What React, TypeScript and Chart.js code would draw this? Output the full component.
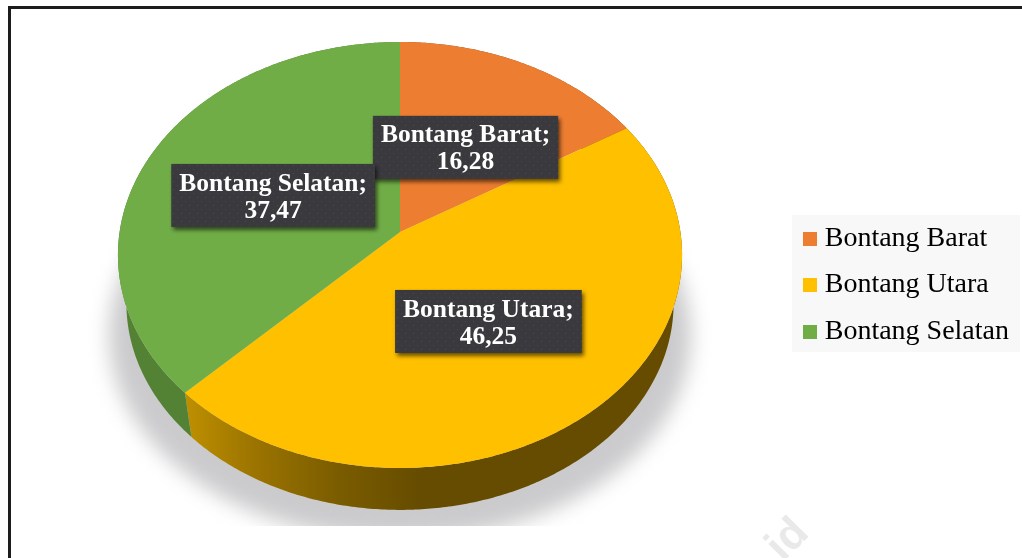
import React, { useEffect, useRef } from "react";
import { Chart, registerables } from "chart.js";

Chart.register(...registerables);

const categories = ["Bontang Barat", "Bontang Utara", "Bontang Selatan"];
const shares = [16.28, 46.25, 37.47];
const shareLabels = ["16,28", "46,25", "37,47"];
const faceColors = ["#ED7D31", "#FFC000", "#70AD47"];

const SERIF = '"Liberation Serif", serif';
const CX = 400;
const CY = 232;
const K = -0.108;
const AX = 280.4;
const AY = 210.5;
const DEPTH_SCALE = 0.97;
const DEPTH_DY = 49;

function project(a: number, r = 1, s = 1, dy = 0) {
  const u = Math.cos(a) * r;
  const v = Math.sin(a) * r;
  const w = 1 + K * v;
  return { x: CX + (s * AX * u) / w, y: CY + dy + (s * AY * v) / w };
}

function edge(ctx: CanvasRenderingContext2D, a0: number, a1: number, s: number, dy: number, first: boolean) {
  const steps = Math.max(2, Math.ceil(Math.abs(a1 - a0) / 0.01));
  for (let i = 0; i <= steps; i++) {
    const p = project(a0 + ((a1 - a0) * i) / steps, 1, s, dy);
    if (first && i === 0) ctx.moveTo(p.x, p.y);
    else ctx.lineTo(p.x, p.y);
  }
}

function dots(ctx: CanvasRenderingContext2D) {
  const c = document.createElement("canvas");
  c.width = 8;
  c.height = 8;
  const g = c.getContext("2d")!;
  g.fillStyle = "#3a3a3e";
  g.fillRect(0, 0, 8, 8);
  g.fillStyle = "#4a4a4d";
  g.fillRect(1, 1, 1, 1);
  g.fillRect(5, 5, 1, 1);
  return ctx.createPattern(c, "repeat")!;
}

const framePlugin = {
  id: "frame",
  beforeDraw(chart: any) {
    const ctx: CanvasRenderingContext2D = chart.ctx;
    ctx.save();
    ctx.fillStyle = "#ffffff";
    ctx.fillRect(0, 0, chart.width, chart.height);
    ctx.fillStyle = "#1c1c1c";
    ctx.fillRect(8, 6, chart.width - 8, 3);
    ctx.fillRect(8, 6, 3, chart.height - 6);
    ctx.fillStyle = "#f8f8f9";
    ctx.fillRect(792, 215, 228, 137);
    ctx.translate(788, 540);
    ctx.rotate(-Math.PI / 4);
    ctx.fillStyle = "#e9e9e9";
    ctx.font = 'bold 44px "Liberation Sans", sans-serif';
    ctx.textAlign = "center";
    ctx.textBaseline = "middle";
    ctx.fillText("id", 0, 0);
    ctx.restore();
  },
};

const pie3dPlugin = {
  id: "pie3d",
  beforeDatasetDraw(chart: any, args: any) {
    const ctx: CanvasRenderingContext2D = chart.ctx;
    const arcs = args.meta.data;
    ctx.save();

    // soft cast shadow, cut off flat at the bottom
    ctx.save();
    ctx.beginPath();
    ctx.rect(0, 0, chart.width, 526);
    ctx.clip();
    ctx.filter = "blur(10px)";
    ctx.fillStyle = "#cbcbcd";
    ctx.beginPath();
    ctx.ellipse(CX, 335, 291, 205, 0, 0, Math.PI * 2);
    ctx.fill();
    ctx.restore();

    // side walls
    const wall = ctx.createLinearGradient(188, 0, 420, 0);
    wall.addColorStop(0, "#bd8e00");
    wall.addColorStop(0.3, "#9a7300");
    wall.addColorStop(0.65, "#7a5c00");
    wall.addColorStop(1, "#664c00");
    const walls = ["#7f4a1f", wall, "#548235"];
    arcs.forEach((arc: any, i: number) => {
      const { startAngle, endAngle } = arc.getProps(["startAngle", "endAngle"], true);
      ctx.beginPath();
      edge(ctx, startAngle, endAngle, 1, 0, true);
      edge(ctx, endAngle, startAngle, DEPTH_SCALE, DEPTH_DY, false);
      ctx.closePath();
      ctx.fillStyle = walls[i];
      ctx.fill();
    });

    // top faces
    arcs.forEach((arc: any, i: number) => {
      const { startAngle, endAngle } = arc.getProps(["startAngle", "endAngle"], true);
      ctx.beginPath();
      ctx.moveTo(CX, CY);
      edge(ctx, startAngle, endAngle, 1, 0, false);
      ctx.closePath();
      ctx.fillStyle = faceColors[i];
      ctx.fill();
    });
    ctx.restore();
    return false;
  },
  afterDatasetsDraw(chart: any) {
    const ctx: CanvasRenderingContext2D = chart.ctx;
    const arcs = chart.getDatasetMeta(0).data;
    const pattern = dots(ctx);
    ctx.save();
    ctx.font = `bold 25.5px ${SERIF}`;
    ctx.textAlign = "center";
    ctx.textBaseline = "middle";
    arcs.forEach((arc: any, i: number) => {
      const { startAngle, endAngle } = arc.getProps(["startAngle", "endAngle"], true);
      const p = project((startAngle + endAngle) / 2, 0.5);
      const title = `${categories[i]};`;
      const w = ctx.measureText(title).width + 16;
      const h = 63;
      const x = p.x - w / 2 - (i === 1 ? 2 : 0);
      const y = p.y - h / 2 + 3;
      ctx.save();
      ctx.shadowColor = "rgba(0,0,0,0.6)";
      ctx.shadowBlur = 4;
      ctx.shadowOffsetX = 2;
      ctx.shadowOffsetY = 3;
      ctx.fillStyle = pattern;
      ctx.fillRect(x, y, w, h);
      ctx.restore();
      ctx.fillStyle = "#ffffff";
      ctx.fillText(title, x + w / 2, y + 20);
      ctx.fillText(shareLabels[i], x + w / 2, y + 47);
    });
    ctx.restore();
  },
};

function swatch(color: string) {
  const c = document.createElement("canvas");
  c.width = 14;
  c.height = 14;
  const g = c.getContext("2d")!;
  g.fillStyle = color;
  g.fillRect(0, 0, 14, 14);
  return c;
}

export default function App() {
  const ref = useRef<HTMLCanvasElement>(null);
  useEffect(() => {
    const chart = new Chart(ref.current!, {
      type: "pie",
      data: {
        labels: categories,
        datasets: [{ data: shares, backgroundColor: faceColors, borderWidth: 0 }],
      },
      options: {
        responsive: false,
        animation: false,
        layout: { padding: { top: 12, right: 3, bottom: 0, left: 0 } },
        plugins: {
          title: { display: false },
          tooltip: { enabled: false },
          legend: {
            display: true,
            position: "right",
            labels: {
              usePointStyle: true,
              boxWidth: 2,
              boxHeight: 2,
              padding: 18.5,
              color: "#1a1a1a",
              font: { family: SERIF, size: 28, lineHeight: 1 },
              generateLabels: () =>
                categories.map((text, index) => ({
                  text,
                  index,
                  fillStyle: faceColors[index],
                  strokeStyle: faceColors[index],
                  lineWidth: 0,
                  hidden: false,
                  pointStyle: swatch(faceColors[index]),
                })),
            },
          },
        },
      },
      plugins: [framePlugin, pie3dPlugin],
    } as any);
    return () => chart.destroy();
  }, []);
  return (
    <canvas
      ref={ref}
      width={1022}
      height={558}
      style={{ position: "fixed", left: 0, top: 0, width: 1022, height: 558, display: "block" }}
    />
  );
}
